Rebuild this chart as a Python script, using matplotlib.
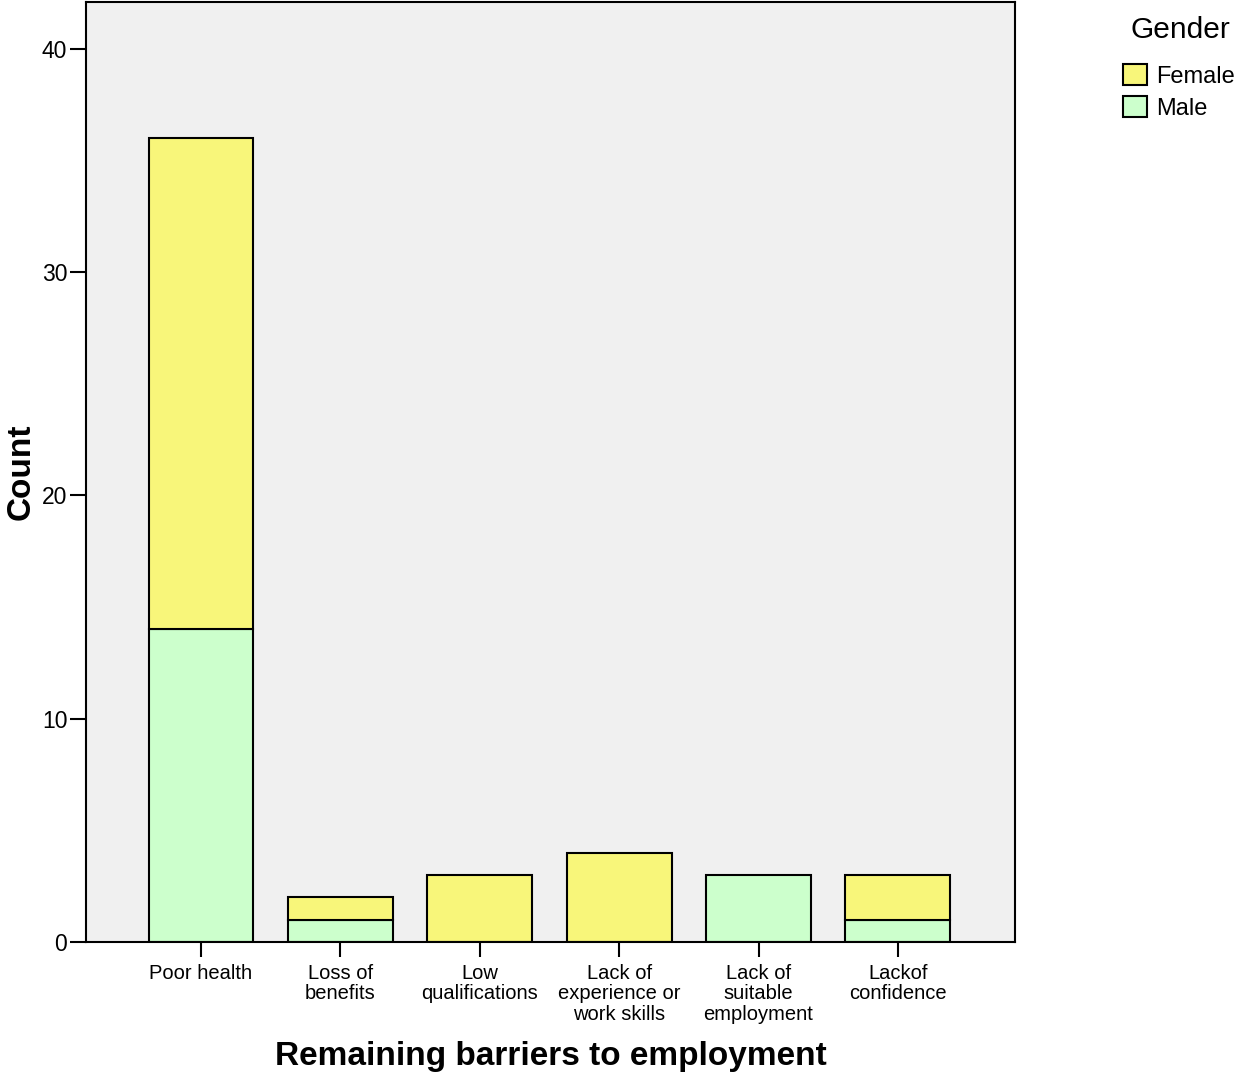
import matplotlib.pyplot as plt
import numpy as np

plt.rcParams['font.family'] = ['Liberation Sans', 'DejaVu Sans']

categories = ["Poor health", "Loss of\nbenefits", "Low\nqualifications",
              "Lack of\nexperience or\nwork skills", "Lack of\nsuitable\nemployment",
              "Lackof\nconfidence"]
male = [14, 1, 0, 0, 3, 1]
female = [22, 1, 3, 4, 0, 2]

male_color = "#ccffcc"
female_color = "#f8f67a"

fig = plt.figure(figsize=(12.38, 10.72), dpi=100)
ax = fig.add_axes([86 / 1238, 130 / 1072, 929 / 1238, 940 / 1072])
ax.set_facecolor("#f0f0f0")

x = np.arange(len(categories))
w = 0.753
# skip zero-height segments so no stray outlines show up
for i in x:
    if male[i] > 0:
        ax.bar(i, male[i], width=w, color=male_color, edgecolor='black', linewidth=1.5)
    if female[i] > 0:
        ax.bar(i, female[i], bottom=male[i], width=w, color=female_color,
               edgecolor='black', linewidth=1.5)

ax.set_xlim(-0.825, 5.84)
ax.set_ylim(0, 42.1)
ax.set_yticks([0, 10, 20, 30, 40])
ax.set_xticks(x)
ax.set_xticklabels(categories, fontsize=14.5, linespacing=1.1)
ax.tick_params(axis='y', labelsize=16.5, length=11.5, width=1.5, direction='out', pad=2)
ax.tick_params(axis='x', length=11, width=1.5, direction='out', pad=4.5)
for s in ax.spines.values():
    s.set_linewidth(1.5)

ax.set_ylabel("Count", fontsize=24, fontweight='bold', labelpad=4)
ax.set_xlabel("Remaining barriers to employment", fontsize=24, fontweight='bold', labelpad=12.5)

# legend title drawn separately so its gap to the entries can be set freely
fig.text(1180 / 1238, 1 - 30 / 1072, "Gender", ha='center', va='center', fontsize=21.5)
handles = [plt.Rectangle((0, 0), 1, 1, facecolor=female_color, edgecolor='black', linewidth=1.5),
           plt.Rectangle((0, 0), 1, 1, facecolor=male_color, edgecolor='black', linewidth=1.5)]
leg = fig.legend(handles, ["Female", "Male"], loc='upper left',
                 bbox_to_anchor=(1123 / 1238, 1 - 64 / 1072), frameon=False,
                 fontsize=17, handlelength=1.0, handleheight=1.0,
                 handletextpad=0.4, labelspacing=0.35, borderpad=0, borderaxespad=0)

fig.savefig("out.png", dpi=100)
